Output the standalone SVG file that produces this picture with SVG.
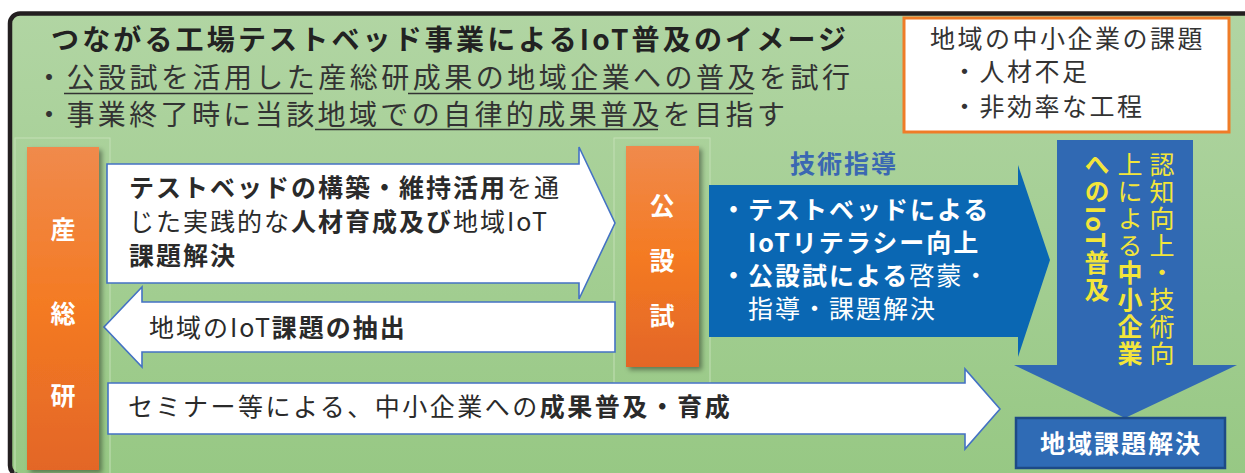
<svg xmlns="http://www.w3.org/2000/svg" width="1245" height="473" viewBox="0 0 1245 473">
<defs>
<style>
.jp{font-family:"Noto Sans CJK JP","Noto Sans",sans-serif;}
.b{font-weight:700;}
.n{font-weight:400;}
.dk{fill:#2a2a2a;}
.wt{fill:#ffffff;}
.yl{fill:#f3e53a;}
.body{font-size:25px;letter-spacing:2px;}
.wide{letter-spacing:2.5px;}
.warrow{fill:#ffffff;stroke:#4472c4;stroke-width:1.6;stroke-linejoin:miter;}
.grid{fill:none;stroke:#c3e0b6;stroke-width:1;}
.ul{stroke:#333;stroke-width:1.6;}
</style>
<linearGradient id="bg" x1="0" y1="0" x2="0" y2="1">
<stop offset="0" stop-color="#b1d5a3"/>
<stop offset="1" stop-color="#97c884"/>
</linearGradient>
<linearGradient id="org" x1="0" y1="0" x2="0" y2="1">
<stop offset="0" stop-color="#f08a4c"/>
<stop offset="0.5" stop-color="#f47a22"/>
<stop offset="1" stop-color="#e36628"/>
</linearGradient>
<filter id="sh" x="-20%" y="-10%" width="150%" height="120%">
<feDropShadow dx="3" dy="3" stdDeviation="2.5" flood-color="#000" flood-opacity="0.4"/>
</filter>
</defs>

<rect id="frame" x="10" y="13.5" width="1300" height="462" rx="10" fill="url(#bg)" stroke="#231f20" stroke-width="4.5"/>

<g id="grid">
<rect class="grid" x="15" y="138" width="95" height="340"/>
<rect class="grid" x="614" y="138" width="96" height="245"/>
</g>

<g id="title">
<text class="jp b" x="51" y="50" font-size="28" fill="#222" textLength="795" lengthAdjust="spacing">つながる工場テストベッド事業によるIoT普及のイメージ</text>
<text class="jp n" x="35" y="88" font-size="28" fill="#333" textLength="815" lengthAdjust="spacing">・公設試を活用した産総研成果の地域企業への普及を試行</text>
<text class="jp n" x="35" y="125" font-size="28" fill="#333" textLength="750" lengthAdjust="spacing">・事業終了時に当該地域での自律的成果普及を目指す</text>
<line class="ul" x1="64" y1="93.5" x2="313" y2="93.5"/>
<line class="ul" x1="408" y1="93.5" x2="753" y2="93.5"/>
<line class="ul" x1="315" y1="129.5" x2="658" y2="129.5"/>
</g>

<g id="issues">
<rect x="904" y="18" width="325" height="114" fill="#ffffff" stroke="#ef7c28" stroke-width="3"/>
<text class="jp n body wide" x="930" y="48" fill="#333">地域の中小企業の課題</text>
<text class="jp n body wide" x="952" y="81" fill="#333">・人材不足</text>
<text class="jp n body wide" x="952" y="116" fill="#333">・非効率な工程</text>
</g>

<g id="connectors">
<g id="arrow-testbed">
<polygon class="warrow" points="107,164 579,164 579,147 615,223 579,299 579,283 107,283"/>
<text class="jp body dk" x="129" y="197"><tspan class="b">テストベッドの構築・維持活用</tspan><tspan class="n">を通</tspan></text>
<text class="jp body dk" x="129" y="231"><tspan class="n">じた実践的な</tspan><tspan class="b">人材育成及び</tspan><tspan class="n">地域IoT</tspan></text>
<text class="jp body dk b" x="129" y="265">課題解決</text>
</g>
<g id="arrow-extract">
<polygon class="warrow" points="615,302 142,302 142,287 104,327 142,367 142,352 615,352"/>
<text class="jp body dk" x="149" y="337"><tspan class="n">地域のIoT</tspan><tspan class="b">課題の抽出</tspan></text>
</g>
<g id="arrow-seminar">
<polygon class="warrow" points="108,383 965,383 965,369 1000,409 965,449 965,434 108,434"/>
<text class="jp body dk" x="128" y="416" style="letter-spacing:2.5px"><tspan class="n">セミナー等による、中小企業への</tspan><tspan class="b">成果普及・育成</tspan></text>
</g>
<g id="arrow-guidance">
<polygon points="709,185 1018,185 1018,165 1050,260 1018,357 1018,337 709,337" fill="#0a67b3"/>
<text class="jp b body" x="790" y="173" fill="#3a68b2">技術指導</text>
<text class="jp body wt b" x="721" y="219">・テストベッドによる</text>
<text class="jp body wt b" x="748" y="252">IoTリテラシー向上</text>
<text class="jp body wt" x="721" y="285"><tspan class="b">・公設試による</tspan><tspan class="n">啓蒙・</tspan></text>
<text class="jp body wt n" x="748" y="318">指導・課題解決</text>
</g>
<g id="arrow-down">
<polygon points="1057,140 1193,140 1193,365 1237,365 1125,418 1014,365 1057,365" fill="#3069b3"/>
<text class="jp body yl n" x="1162" y="152" style="writing-mode:vertical-rl">認知向上・技術向</text>
<text class="jp body yl" x="1130" y="152" style="writing-mode:vertical-rl"><tspan class="n">上による</tspan><tspan class="b">中小企業</tspan></text>
<text class="jp body yl b" x="1097" y="152" style="writing-mode:vertical-rl">へのIoT普及</text>
</g>
</g>

<g id="node-aist">
<rect x="27" y="147" width="72" height="323" fill="url(#org)" filter="url(#sh)"/>
<text class="jp b wt" x="63" y="239" font-size="25" text-anchor="middle">産</text>
<text class="jp b wt" x="63" y="323" font-size="25" text-anchor="middle">総</text>
<text class="jp b wt" x="63" y="405" font-size="25" text-anchor="middle">研</text>
</g>

<g id="node-kosetsushi">
<rect x="626" y="146" width="73" height="221" fill="url(#org)" filter="url(#sh)"/>
<text class="jp b wt" x="662" y="215" font-size="25" text-anchor="middle">公</text>
<text class="jp b wt" x="662" y="270" font-size="25" text-anchor="middle">設</text>
<text class="jp b wt" x="662" y="325" font-size="25" text-anchor="middle">試</text>
</g>

<g id="node-solution">
<rect x="1016" y="418" width="209" height="50" fill="#2f6bb5" stroke="#1d4a86" stroke-width="2.5"/>
<text class="jp b wt body" x="1121" y="453" text-anchor="middle">地域課題解決</text>
</g>
</svg>
